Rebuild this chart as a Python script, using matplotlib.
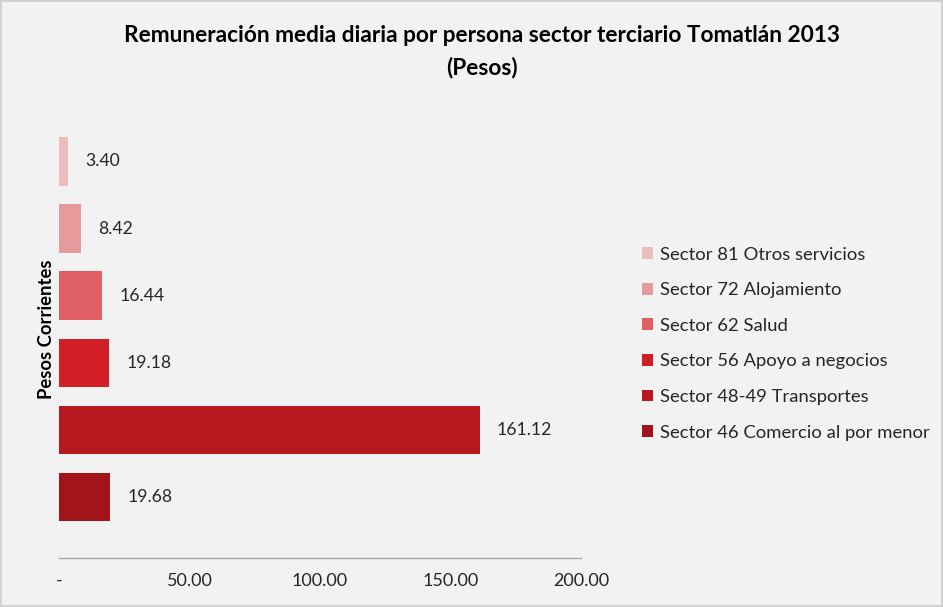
import matplotlib
matplotlib.use("Agg")
import matplotlib.pyplot as plt
from matplotlib.patches import Patch

plt.rcParams['font.family'] = ['Lato', 'DejaVu Sans']

sectors = ["Sector 81 Otros servicios", "Sector 72 Alojamiento", "Sector 62 Salud",
           "Sector 56 Apoyo a negocios", "Sector 48-49 Transportes",
           "Sector 46 Comercio al por menor"]
values = [3.40, 8.42, 16.44, 19.18, 161.12, 19.68]
colors = ["#eebcbf", "#e79a9c", "#df5f64", "#d21f26", "#b81920", "#a0141a"]
xticks = [0, 50, 100, 150, 200]
xticklabels = ["-", "50.00", "100.00", "150.00", "200.00"]

fig = plt.figure(figsize=(9.43, 6.07), dpi=100)
fig.patch.set_facecolor("#f2f2f2")
fig.patch.set_edgecolor("#d0d0d0")
fig.patch.set_linewidth(1.5)

ax = fig.add_axes([0.0626, 0.0807, 0.5535, 0.754])
ax.set_facecolor("#f2f2f2")

n = len(values)
positions = [n - 1 - i for i in range(n)]
for pos, v, c, lab in zip(positions, values, colors, sectors):
    ax.barh(pos, v, height=0.72, color=c, label=lab)
    ax.annotate(f"{v:.2f}", xy=(v, pos), xytext=(12.5, 0), textcoords="offset points",
                va="center", ha="left", fontsize=12.7, color="#262626")

ax.set_xlim(0, 200)
ax.set_ylim(-0.91, 5.91)
ax.set_xticks(xticks)
ax.set_xticklabels(xticklabels, fontsize=13, color="#262626")
ax.set_yticks([])
ax.tick_params(axis="x", length=0, pad=11)
for s in ["top", "right", "left"]:
    ax.spines[s].set_visible(False)
ax.spines["bottom"].set_color("#a6a6a6")
ax.spines["bottom"].set_linewidth(1)

ax.set_ylabel("Pesos Corrientes", fontsize=13.3, fontweight="bold", color="#000000", labelpad=3)

fig.text(0.511, 0.941, "Remuneración media diaria por persona sector terciario Tomatlán 2013",
         ha="center", va="center", fontsize=16.3, fontweight="bold", color="#000000")
fig.text(0.511, 0.888, "(Pesos)", ha="center", va="center", fontsize=16.3,
         fontweight="bold", color="#000000")

handles = [Patch(facecolor=c, edgecolor="none", label=l) for l, c in zip(sectors, colors)]
fig.legend(handles=handles, loc="upper left", bbox_to_anchor=(0.663, 0.621),
           frameon=False, fontsize=13.3, handlelength=0.6, handleheight=0.6,
           handletextpad=0.4, labelspacing=1.06, labelcolor="#262626")

fig.savefig("out.png", dpi=100, facecolor=fig.get_facecolor(), edgecolor=fig.get_edgecolor())
